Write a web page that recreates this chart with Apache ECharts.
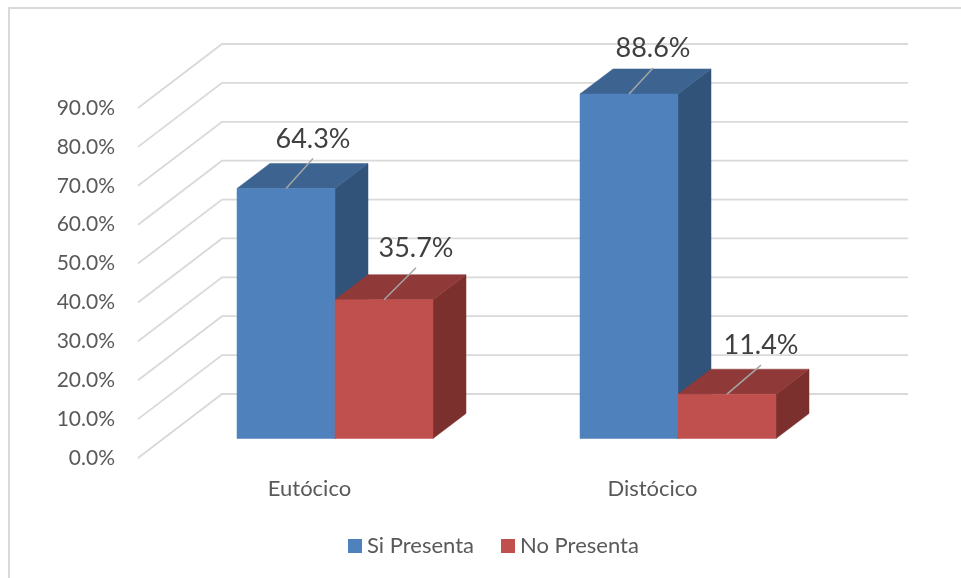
<!DOCTYPE html>
<html><head><meta charset="utf-8">
<script src="https://cdn.jsdelivr.net/npm/echarts@6/dist/echarts.min.js"></script>
<style>html,body{margin:0;padding:0;background:#fff}#c{width:961px;height:578px}</style>
</head><body><div id="c"></div>
<script>
const categories = ['Eutócico', 'Distócico'];
const siPresenta = [64.3, 88.6];
const noPresenta = [35.7, 11.4];
const tickValues = [0, 10, 20, 30, 40, 50, 60, 70, 80, 90];

const FONT = 'Lato';
const WALL = { dx: 84, dy: 64 };    // floor depth in px
const FRONT = { dx: 25.5, dy: 19.5 };   // bar front plane, from chart front plane
const BAR = { dx: 33, dy: 25 };     // bar depth
const BAR_RATIO = 2 / 7;
const leaderSi = [[27, -30], [24, -26]];
const leaderNo = [[32, -32], [34, -29]];

function gridItem(params, api) {
  const cs = params.coordSys;
  const y = api.coord([0, api.value(1)])[1];
  return {
    type: 'polyline',
    silent: true,
    shape: { points: [[cs.x, y], [cs.x + WALL.dx, y - WALL.dy], [cs.x + cs.width + WALL.dx, y - WALL.dy]] },
    style: { fill: null, stroke: '#d9d9d9', lineWidth: 1.8 }
  };
}

function barRenderer(side, colors, leaders) {
  return function (params, api) {
    const cat = api.value(0), val = api.value(1);
    const w = api.size([1, 0])[0] * BAR_RATIO;
    const top = api.coord([cat, val]), base = api.coord([cat, 0]);
    const x0 = top[0] + FRONT.dx + (side < 0 ? -w : 0), x1 = x0 + w;
    const yt = top[1] - FRONT.dy, yb = base[1] - FRONT.dy;
    const cx = (x0 + x1) / 2;
    const off = leaders[params.dataIndex];
    const poly = (pts, fill) => ({ type: 'polygon', shape: { points: pts }, style: { fill: fill, stroke: fill, lineWidth: 0.5 } });
    return {
      type: 'group',
      children: [
        poly([[x1, yt], [x1 + BAR.dx, yt - BAR.dy], [x1 + BAR.dx, yb - BAR.dy], [x1, yb]], colors.side),
        poly([[x0, yt], [x0 + BAR.dx, yt - BAR.dy], [x1 + BAR.dx, yt - BAR.dy], [x1, yt]], colors.top),
        poly([[x0, yt], [x1, yt], [x1, yb], [x0, yb]], colors.front),
        { type: 'line', shape: { x1: cx, y1: yt, x2: cx + off[0], y2: yt + off[1] }, style: { stroke: '#a6a6a6', lineWidth: 1.5 } },
        { type: 'text', style: { x: cx + off[0], y: yt + off[1] - 19.5, text: val.toFixed(1) + '%', fill: '#404040', font: '27px "' + FONT + '"', textAlign: 'center', textVerticalAlign: 'middle' } }
      ]
    };
  };
}

const blue = { front: '#4f81bd', top: '#3d6391', side: '#315379' };
const red = { front: '#c0504d', top: '#8f3a38', side: '#7b302e' };

const chart = echarts.init(document.getElementById('c'), null, { renderer: 'canvas' });
chart.setOption({
  animation: false,
  backgroundColor: '#ffffff',
  textStyle: { fontFamily: FONT },
  grid: { left: 138, top: 108, width: 686, height: 350, containLabel: false },
  graphic: [
    { type: 'polyline', silent: true, shape: { points: [[9, 578], [9, 8], [961, 8]] }, style: { fill: null, stroke: '#d9d9d9', lineWidth: 2 } }
  ],
  legend: {
    data: ['Si Presenta', 'No Presenta'],
    left: 343, top: 530,
    itemWidth: 14, itemHeight: 14, itemGap: 27,
    icon: 'rect',
    textStyle: { color: '#595959', fontSize: 22, fontFamily: FONT }
  },
  xAxis: {
    type: 'category', data: categories,
    axisLine: { show: false }, axisTick: { show: false }, splitLine: { show: false },
    axisLabel: { color: '#595959', fontSize: 22, margin: 19.5, fontFamily: FONT }
  },
  yAxis: {
    type: 'value', min: 0, max: 90, interval: 10,
    axisLine: { show: false }, axisTick: { show: false }, splitLine: { show: false },
    axisLabel: { color: '#595959', fontSize: 21, margin: 23, padding: [4, 0, 0, 0], fontFamily: FONT, formatter: v => v.toFixed(1) + '%' }
  },
  series: [
    { name: 'wall', type: 'custom', coordinateSystem: 'cartesian2d', clip: false, renderItem: gridItem, encode: { x: 0, y: 1 }, data: tickValues.map(t => [0, t]), z: 1 },
    { name: 'Si Presenta', type: 'custom', coordinateSystem: 'cartesian2d', clip: false, itemStyle: { color: blue.front }, renderItem: barRenderer(-1, blue, leaderSi), encode: { x: 0, y: 1 }, data: siPresenta.map((v, i) => [i, v]), z: 2 },
    { name: 'No Presenta', type: 'custom', coordinateSystem: 'cartesian2d', clip: false, itemStyle: { color: red.front }, renderItem: barRenderer(1, red, leaderNo), encode: { x: 0, y: 1 }, data: noPresenta.map((v, i) => [i, v]), z: 3 }
  ]
});
</script></body></html>
